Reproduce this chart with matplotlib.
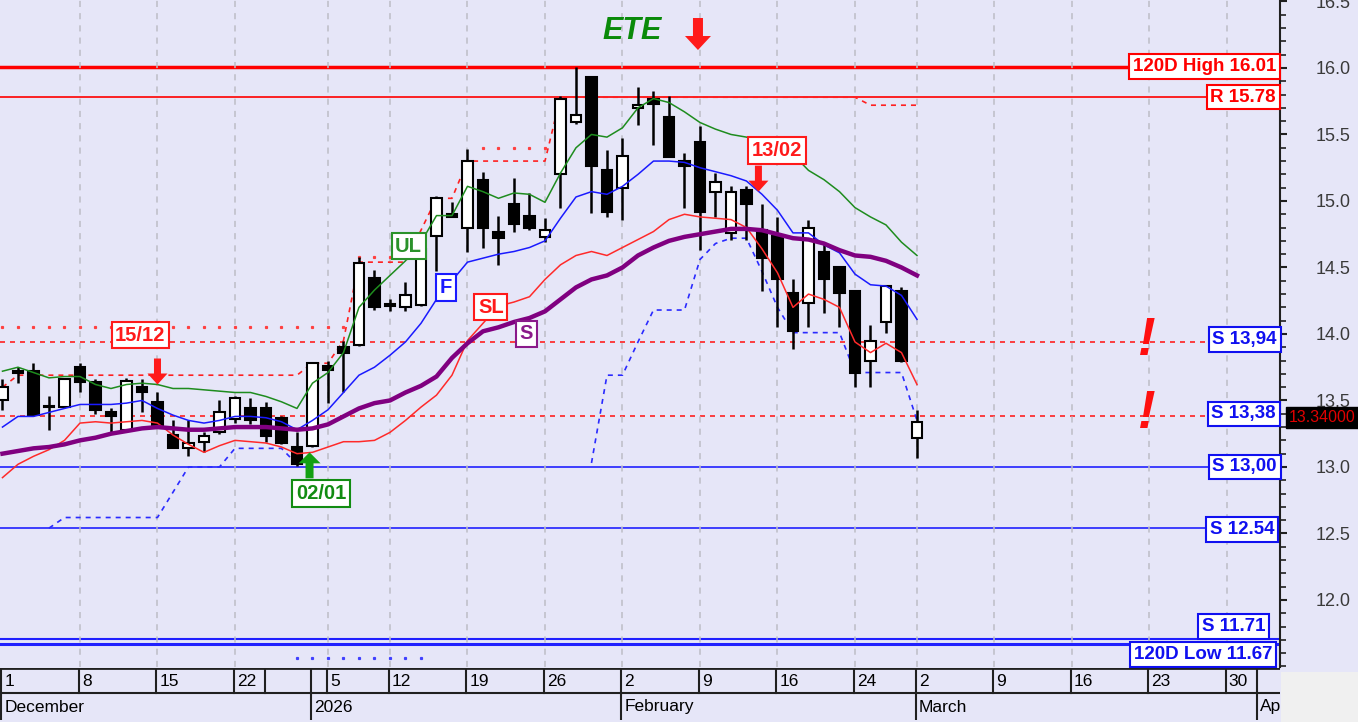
import numpy as np
import matplotlib
matplotlib.use("Agg")
import matplotlib.pyplot as plt
from matplotlib.patches import FancyArrow, Rectangle
from matplotlib.ticker import MultipleLocator, FormatStrFormatter

plt.rcParams['font.family'] = ['Liberation Sans', 'DejaVu Sans']

# trading days: index 0 = 1 Dec 2025 ... index 59 = 2 Mar 2026
opens = [13.50, 13.71, 13.72, 13.45, 13.45, 13.75, 13.64, 13.41, 13.28, 13.60,
         13.49, 13.24, 13.14, 13.19, 13.26, 13.36, 13.44, 13.44, 13.37, 13.15,
         13.16, 13.76, 13.90, 13.92, 14.42, 14.21, 14.20, 14.22, 14.74, 14.90,
         14.80, 15.16, 14.77, 14.98, 14.89, 14.73, 15.20, 15.59, 15.93, 15.23,
         15.10, 15.70, 15.77, 15.63, 15.30, 15.44, 15.07, 14.76, 15.08, 14.78,
         14.74, 14.31, 14.23, 14.62, 14.50, 14.32, 13.80, 14.09, 14.32, 13.22]
highs = [13.66, 13.75, 13.78, 13.53, 13.67, 13.78, 13.66, 13.44, 13.67, 13.66,
         13.56, 13.35, 13.35, 13.26, 13.50, 13.53, 13.52, 13.49, 13.38, 13.26,
         13.79, 13.80, 13.95, 14.58, 14.48, 14.26, 14.39, 14.66, 15.04, 14.99,
         15.39, 15.22, 14.89, 15.17, 15.06, 14.87, 15.79, 16.01, 15.94, 15.38,
         15.47, 15.86, 15.83, 15.79, 15.36, 15.56, 15.21, 15.11, 15.11, 14.98,
         14.88, 14.41, 14.86, 14.68, 14.51, 14.33, 14.07, 14.37, 14.35, 13.43]
lows = [13.43, 13.63, 13.38, 13.28, 13.44, 13.56, 13.40, 13.26, 13.27, 13.41,
        13.29, 13.14, 13.08, 13.11, 13.25, 13.33, 13.32, 13.19, 13.17, 13.01,
        13.15, 13.48, 13.56, 13.91, 14.18, 14.17, 14.17, 14.21, 14.47, 14.88,
        14.62, 14.65, 14.52, 14.77, 14.78, 14.69, 14.95, 15.58, 14.91, 14.88,
        14.86, 15.57, 15.42, 15.33, 14.95, 14.63, 14.88, 14.71, 14.71, 14.32,
        14.05, 13.89, 14.05, 14.16, 14.05, 13.60, 13.60, 14.01, 13.79, 13.07]
closes = [13.60, 13.71, 13.39, 13.46, 13.66, 13.64, 13.43, 13.38, 13.65, 13.56,
          13.30, 13.14, 13.18, 13.23, 13.41, 13.52, 13.35, 13.23, 13.18, 13.02,
          13.78, 13.73, 13.86, 14.53, 14.20, 14.21, 14.29, 14.64, 15.02, 14.88,
          15.30, 14.80, 14.72, 14.83, 14.80, 14.78, 15.77, 15.65, 15.26, 14.92,
          15.34, 15.72, 15.73, 15.33, 15.26, 14.92, 15.14, 15.07, 14.98, 14.57,
          14.41, 14.02, 14.80, 14.41, 14.31, 13.71, 13.95, 14.36, 13.80, 13.34]

# indicator lines
ul_line = [13.72, 13.75, 13.71, 13.67, 13.68, 13.68, 13.62, 13.59, 13.62, 13.63,
           13.62, 13.59, 13.59, 13.58, 13.57, 13.56, 13.56, 13.53, 13.49, 13.44,
           13.63, 13.71, 13.86, 14.20, 14.33, 14.44, 14.55, 14.69, 14.89, 14.89,
           15.11, 15.07, 15.02, 15.06, 15.05, 14.99, 15.21, 15.40, 15.50, 15.48,
           15.55, 15.70, 15.77, 15.74, 15.67, 15.59, 15.54, 15.50, 15.48, 15.45,
           15.42, 15.35, 15.23, 15.16, 15.07, 14.95, 14.88, 14.82, 14.69, 14.59]
f_line = [13.30, 13.38, 13.38, 13.41, 13.44, 13.47, 13.47, 13.47, 13.48, 13.50,
          13.44, 13.39, 13.35, 13.33, 13.35, 13.38, 13.38, 13.37, 13.34, 13.28,
          13.35, 13.43, 13.56, 13.69, 13.75, 13.84, 13.94, 14.08, 14.26, 14.40,
          14.54, 14.57, 14.60, 14.62, 14.65, 14.70, 14.87, 15.03, 15.07, 15.05,
          15.11, 15.20, 15.30, 15.30, 15.29, 15.25, 15.22, 15.19, 15.15, 15.05,
          14.93, 14.76, 14.76, 14.67, 14.61, 14.45, 14.37, 14.36, 14.29, 14.11]
sl_line = [12.92, 13.02, 13.08, 13.13, 13.20, 13.33, 13.34, 13.33, 13.34, 13.35,
           13.33, 13.24, 13.17, 13.11, 13.16, 13.20, 13.19, 13.18, 13.15, 13.10,
           13.11, 13.15, 13.19, 13.19, 13.20, 13.26, 13.35, 13.45, 13.54, 13.69,
           13.95, 14.08, 14.21, 14.24, 14.28, 14.41, 14.52, 14.59, 14.62, 14.59,
           14.65, 14.71, 14.77, 14.86, 14.90, 14.88, 14.87, 14.86, 14.80, 14.64,
           14.46, 14.20, 14.30, 14.26, 14.20, 13.94, 13.86, 13.93, 13.86, 13.62]
s_line = [13.10, 13.12, 13.14, 13.15, 13.17, 13.20, 13.22, 13.25, 13.27, 13.29,
          13.30, 13.29, 13.28, 13.28, 13.29, 13.30, 13.30, 13.30, 13.29, 13.28,
          13.29, 13.32, 13.38, 13.44, 13.48, 13.50, 13.56, 13.61, 13.68, 13.82,
          13.93, 14.02, 14.05, 14.09, 14.12, 14.17, 14.26, 14.35, 14.41, 14.44,
          14.50, 14.59, 14.65, 14.70, 14.73, 14.75, 14.77, 14.79, 14.79, 14.78,
          14.75, 14.72, 14.71, 14.68, 14.63, 14.59, 14.58, 14.55, 14.50, 14.44]

nan = np.nan
stop_low = [nan, nan, nan, 12.54, 12.62, 12.62, 12.62, 12.62, 12.62, 12.62,
            12.62, 12.81, 13.00, 13.00, 13.00, 13.14, 13.14, 13.14, 13.14, 13.02,
            nan, nan, nan, nan, nan, nan, nan, nan, nan, nan,
            nan, nan, nan, nan, nan, nan, nan, nan, 13.03, 13.69,
            13.69, 13.94, 14.18, 14.18, 14.18, 14.56, 14.68, 14.72, 14.72, 14.47,
            14.20, 14.01, 14.01, 14.01, 14.01, 13.71, 13.71, 13.71, 13.71, 13.35]
stop_high = [13.60, 13.69, 13.69, 13.69, 13.69, 13.69, 13.69, 13.69, 13.69, 13.69,
             13.69, 13.69, 13.69, 13.69, 13.69, 13.69, 13.69, 13.69, 13.69, 13.69,
             13.78, 13.78, 13.95, 14.54, 14.54, 14.54, 14.54, 14.78, 15.02, 15.02,
             15.30, 15.30, 15.30, 15.30, 15.30, 15.30, 15.78, 15.78, 15.78, 15.78,
             15.78, 15.78, 15.78, 15.78, 15.78, 15.78, 15.78, 15.78, 15.78, 15.78,
             15.78, 15.78, 15.78, 15.78, 15.78, 15.78, 15.72, 15.72, 15.72, 15.72]
dots_high = [14.05] * 23 + [14.58] * 3 + [nan] * 5 + [15.40] * 5 + [nan] * 24
dots_low = [nan] * 19 + [11.56] * 9 + [nan] * 32

# horizontal levels and their right-hand labels
levels = [16.01, 15.78, 13.94, 13.38, 13.00, 12.54, 11.71, 11.67]
level_labels = ["120D High 16.01", "R 15.78", "S 13,94", "S 13,38",
                "S 13,00", "S 12.54", "S 11.71", "120D Low 11.67"]
level_label_y = [16.01, 15.78, 13.96, 13.40, 13.00, 12.53, 11.80, 11.59]
level_label_right = [1276, 1276, 1277, 1276, 1277, 1274, 1265, 1272]
level_colors = ['#FF0000', '#FF0000', '#FF2020', '#FF2020',
                '#2020FF', '#2020FF', '#2020FF', '#2020FF']
level_text_colors = ['#FF0000', '#FF0000', '#1010F0', '#1010F0',
                     '#1010F0', '#1010F0', '#1010F0', '#1010F0']
level_styles = ['-', '-', '--', '--', '-', '-', '-', '-']
level_widths = [2.5, 1.2, 1.2, 1.2, 1.2, 1.2, 1.5, 2.2]

last_price = 13.34

# annotations
note_text = ["15/12", "13/02", "02/01", "UL", "F", "SL", "S"]
note_x = [8.9, 49.97, 20.55, 26.2, 28.6, 31.5, 33.8]
note_y = [13.99, 15.38, 12.80, 14.66, 14.35, 14.20, 14.00]
note_colors = ['#FF1A1A', '#FF1A1A', '#128C12', '#2A922A', '#1A1AFF', '#FF1A1A', '#8A1A8A']

arrow_x = [44.87, 10.0, 48.77, 19.81]
arrow_tip = [16.135, 13.62, 15.07, 13.11]
arrow_dir = [-1, -1, -1, 1]
arrow_colors = ['#FF1A1A', '#FF1A1A', '#FF1A1A', '#12A012']
# length, shaft, head width, head length (pixels)
arrow_px = [(32, 10, 26, 14), (26, 7, 20, 11), (26, 7, 20, 11), (26, 8, 22, 11)]

bang_x = 73.8
bang_y = [13.95, 13.40]

# date axis
week_pos = [0, 5, 10, 15, 17, 20, 21, 25, 30, 35, 40, 45, 50, 55, 59, 64, 69, 74, 79, 81]
week_lab = ["1", "8", "15", "22", "", "", "5", "12", "19", "26",
            "2", "9", "16", "24", "2", "9", "16", "23", "30", ""]
month_pos = [0, 20, 40, 59, 81]
month_lab = ["December", "2026", "February", "March", "April"]
grid_pos = [5, 10, 15, 21, 25, 30, 35, 40, 45, 50, 55, 59, 64, 69, 74, 79]

BG = '#E6E6F8'
W, H = 1358, 722
X0, X1 = -0.16, 82.42
Y0, Y1 = 11.496, 16.511

fig = plt.figure(figsize=(W / 100, H / 100), dpi=100)
fig.patch.set_facecolor(BG)
ax = fig.add_axes([0, 55 / H, 1280 / W, 667 / H])
ax.set_facecolor(BG)
ax.set_xlim(X0, X1)
ax.set_ylim(Y0, Y1)
px_x = 1280 / (X1 - X0)
px_y = 667 / (Y1 - Y0)

# grid
ax.set_xticks(grid_pos)
ax.grid(axis='x', color='#BDBDC6', linestyle=(0, (4, 4)), linewidth=1.1, zorder=0)
ax.tick_params(axis='x', bottom=False, labelbottom=False)

# y axis on the right
ax.yaxis.tick_right()
ax.set_yticks(np.arange(12.0, 16.51, 0.5))
ax.yaxis.set_minor_locator(MultipleLocator(0.1))
ax.yaxis.set_major_formatter(FormatStrFormatter('%.1f'))
ax.tick_params(axis='y', which='major', length=5, width=1.5, pad=21,
               labelsize=13, labelcolor='#3A3A3A', color='#202020')
ax.tick_params(axis='y', which='minor', length=4, width=1.2, color='#202020')
for side in ['left', 'top', 'bottom']:
    ax.spines[side].set_visible(False)
ax.spines['right'].set_color('#202020')
ax.spines['right'].set_linewidth(1.5)

idx = np.arange(len(opens))

# levels
for lv, st, col, lw in zip(levels, level_styles, level_colors, level_widths):
    if st == '--':
        ax.axhline(lv, color=col, lw=lw, linestyle=(0, (3, 3)), zorder=1)
    else:
        ax.axhline(lv, color=col, lw=lw, zorder=1)

# indicator lines
ax.plot(idx, stop_low, color='#2A2AFF', lw=1.2, linestyle=(0, (3, 3)), zorder=2)
ax.plot(idx, stop_high, color='#FF2020', lw=1.2, linestyle=(0, (3, 3)), zorder=2)
ax.plot(idx, dots_high, linestyle='none', marker='s', ms=1.3, color='#FF4040', zorder=2)
ax.plot(idx, dots_low, linestyle='none', marker='s', ms=1.3, color='#4040FF', zorder=2)
ax.plot(idx, ul_line, color='#1E8C1E', lw=1.1, zorder=5)
ax.plot(idx, f_line, color='#1A1AFF', lw=1.1, zorder=5)
ax.plot(idx, sl_line, color='#FF2A2A', lw=1.1, zorder=5)
ax.plot(idx, s_line, color='#800080', lw=3.2, zorder=5)

# candles
o = np.array(opens)
h = np.array(highs)
l = np.array(lows)
c = np.array(closes)
up = c >= o
body_lo = np.minimum(o, c)
body_h = np.maximum(np.abs(c - o), 0.012)
ax.vlines(idx, l, h, color='black', lw=1.8, zorder=3)
ax.bar(idx[up], body_h[up], bottom=body_lo[up], width=0.68, color='white',
       edgecolor='black', linewidth=1.5, zorder=4)
ax.bar(idx[~up], body_h[~up], bottom=body_lo[~up], width=0.68, color='black',
       edgecolor='black', linewidth=1.5, zorder=4)

# level labels
for txt, ly, rx, tc in zip(level_labels, level_label_y, level_label_right, level_text_colors):
    ax.text(rx / 1280, ly, txt, transform=ax.get_yaxis_transform(), ha='right', va='center',
            fontsize=13.5, fontweight='bold', color=tc, zorder=8,
            bbox=dict(boxstyle='square,pad=0.2', fc='white', ec=tc, lw=1.5))

# last price box
ax.text(1289 / 1280, last_price + 0.03, f"{last_price:.5f}", transform=ax.get_yaxis_transform(),
        ha='left', va='center', fontsize=11.5, color='#E00000', clip_on=False, zorder=9,
        bbox=dict(boxstyle='square,pad=0.2', fc='black', ec='black'))

# notes
for txt, nx, ny, col in zip(note_text, note_x, note_y, note_colors):
    ax.text(nx, ny, txt, ha='center', va='center', fontsize=14.5, fontweight='bold', color=col,
            zorder=8, bbox=dict(boxstyle='square,pad=0.18', fc='white', ec=col, lw=1.5))

ax.text(40.6, 16.28, "ETE", ha='center', va='center', fontsize=22, fontweight='bold',
        fontstyle='italic', color='#0A8A0A', zorder=8)

for bx in bang_y:
    ax.text(bang_x, bx, "!", ha='center', va='center', fontsize=38, fontweight='bold',
            fontstyle='italic', color='#FF1010', zorder=8)

# block arrows
for axx, tip, d, col, (ln, sw, hw, hl) in zip(arrow_x, arrow_tip, arrow_dir, arrow_colors, arrow_px):
    start = tip - d * ln / px_y
    ax.add_patch(FancyArrow(axx, start, 0, d * ln / px_y, width=sw / px_x,
                            head_width=hw / px_x, head_length=hl / px_y,
                            length_includes_head=True, color=col, lw=0, zorder=9))

# date rows
dax = fig.add_axes([0, 2 / H, 1280 / W, 52 / H])
dax.set_facecolor(BG)
dax.set_xlim(X0, X1)
dax.set_ylim(0, 2)
dax.axis('off')
dax.axhline(2, color='#202020', lw=2)
dax.axhline(1.02, color='#202020', lw=1.5)
for p, t in zip(week_pos, week_lab):
    b = max(p - 0.08, X0 + 0.05)
    dax.plot([b, b], [1.02, 2], color='#202020', lw=1.5)
    dax.text(b + 0.2, 1.5, t, ha='left', va='center', fontsize=12.5, color='black', clip_on=True)
for p, t in zip(month_pos, month_lab):
    b = max(p - 0.08, X0 + 0.05)
    dax.plot([b, b], [0, 1.02], color='#202020', lw=1.5)
    dax.text(b + 0.2, 0.5, t, ha='left', va='center', fontsize=12.5, color='black', clip_on=True)

# grey corner below the price scale
fig.patches.append(Rectangle((1281 / W, 0), 1 - 1281 / W, 50 / H, transform=fig.transFigure,
                             fc='#F0F0F0', ec='none', zorder=0))

fig.savefig("out.png", dpi=100, facecolor=BG)
